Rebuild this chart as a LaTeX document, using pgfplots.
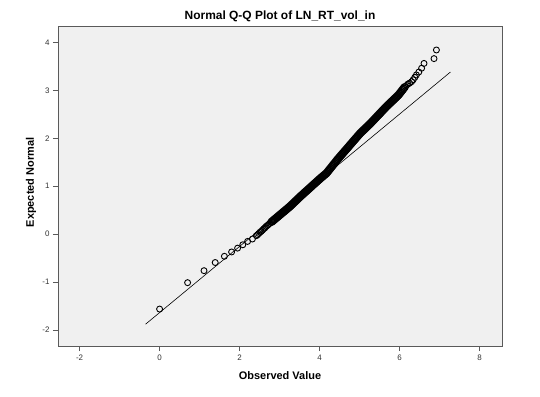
\documentclass[border=0pt]{standalone}
\usepackage{pgfplots}
\pgfplotsset{compat=1.18}
\usepackage{fontspec}
\setmainfont{Liberation Sans}
\definecolor{plotbg}{HTML}{F0F0F0}
\definecolor{framec}{HTML}{5A5A5A}
\begin{document}
\begin{tikzpicture}
\begin{axis}[
  at={(0,0)}, anchor=south west,
  scale only axis, width=444bp, height=320bp,
  xmin=-2.54, xmax=8.56, ymin=-2.33, ymax=4.34,
  axis background/.style={fill=plotbg},
  axis line style={draw=framec, line width=1bp},
  xtick={-2,0,2,4,6,8}, xticklabels={-2,0,2,4,6,8},
  ytick={-2,-1,0,1,2,3,4}, yticklabels={-2,-1,0,1,2,3,4},
  tick align=outside, tick pos=left,
  major tick length=5bp,
  tick style={draw=framec, line width=0.8bp},
  tick label style={font=\fontsize{8}{9}\selectfont, text=black!80},
]
\addplot[black, line width=0.6bp] coordinates {(-0.35,-1.875) (7.27,3.38)};
% sparse observations (tails)
\addplot[only marks, mark=o, mark size=3bp, mark options={line width=0.9bp, draw=black}] coordinates {
(0.00,-1.56) (0.70,-1.01) (1.11,-0.76) (1.39,-0.59) (1.62,-0.46) (1.80,-0.37)
(1.95,-0.29) (2.08,-0.22) (2.20,-0.15) (2.32,-0.10) (2.42,-0.03)
(2.45,-0.01) (2.48,0.015) (2.51,0.04) (2.54,0.06) (2.57,0.085) (2.60,0.11) (2.63,0.13)
(2.66,0.16) (2.69,0.18) (2.72,0.20) (2.75,0.225)
(6.17,3.10) (6.21,3.13) (6.25,3.15) (6.30,3.18) (6.34,3.22) (6.38,3.27) (6.42,3.32)
(6.48,3.38) (6.55,3.46) (6.61,3.56) (6.86,3.66) (6.92,3.84)
};
% dense central band of overlapping observations
\addplot[only marks, mark=o, mark size=3.5bp, mark options={line width=1.3bp, draw=black}] coordinates {
(2.80,0.258) (2.825,0.275) (2.85,0.293) (2.875,0.310) (2.90,0.328)
(2.925,0.345) (2.95,0.363) (2.975,0.380) (3.00,0.398) (3.025,0.415) (3.05,0.433)
(3.075,0.450) (3.10,0.468) (3.125,0.485) (3.15,0.503) (3.175,0.520) (3.20,0.538)
(3.225,0.555) (3.25,0.573)
(3.275,0.592) (3.30,0.612) (3.325,0.632) (3.35,0.652) (3.375,0.672) (3.40,0.692)
(3.425,0.712) (3.45,0.732) (3.475,0.752) (3.50,0.772)
(3.525,0.791) (3.55,0.810) (3.575,0.829) (3.60,0.848) (3.625,0.867) (3.65,0.886)
(3.675,0.905) (3.70,0.923) (3.725,0.942) (3.75,0.961) (3.775,0.980) (3.80,0.999)
(3.825,1.018) (3.85,1.037) (3.875,1.056) (3.90,1.074) (3.925,1.093) (3.95,1.112)
(3.975,1.131) (4.00,1.150)
(4.025,1.168) (4.05,1.185) (4.075,1.203) (4.10,1.221) (4.125,1.238) (4.15,1.256)
(4.175,1.275) (4.20,1.301) (4.225,1.327) (4.25,1.353) (4.275,1.378) (4.30,1.404)
(4.325,1.430) (4.35,1.456) (4.375,1.482) (4.40,1.508) (4.425,1.534) (4.45,1.560)
(4.475,1.585) (4.50,1.609) (4.525,1.633) (4.55,1.657) (4.575,1.681) (4.60,1.705)
(4.625,1.729) (4.65,1.753) (4.675,1.777) (4.70,1.801) (4.725,1.825) (4.75,1.850)
(4.775,1.874) (4.80,1.898) (4.825,1.922) (4.85,1.946) (4.875,1.970) (4.90,1.994)
(4.925,2.018) (4.95,2.042) (4.975,2.066) (5.00,2.090)
(5.025,2.112) (5.05,2.132) (5.075,2.152) (5.10,2.172) (5.125,2.192) (5.15,2.212)
(5.175,2.232) (5.20,2.252) (5.225,2.272) (5.25,2.292)
(5.275,2.313) (5.30,2.335) (5.325,2.357) (5.35,2.379) (5.375,2.401) (5.40,2.423)
(5.425,2.445) (5.45,2.467) (5.475,2.489) (5.50,2.511) (5.525,2.533) (5.55,2.555)
(5.575,2.577) (5.60,2.599) (5.625,2.620) (5.65,2.642)
(5.675,2.664) (5.70,2.684) (5.725,2.704) (5.75,2.724) (5.775,2.744) (5.80,2.764)
(5.825,2.784) (5.85,2.804) (5.875,2.824) (5.90,2.844) (5.925,2.864) (5.95,2.884)
(5.975,2.905) (6.00,2.932) (6.025,2.958) (6.05,2.985) (6.075,3.011) (6.10,3.038)
(6.125,3.064)
};
\end{axis}
\node[font=\bfseries\fontsize{12}{14}\selectfont] at (222bp,330bp) {Normal Q-Q Plot of LN\_RT\_vol\_in};
\node[font=\bfseries\fontsize{11}{13}\selectfont] at (222bp,-30bp) {Observed Value};
\node[font=\bfseries\fontsize{11}{13}\selectfont, rotate=90] at (-27bp,163.5bp) {Expected Normal};
\pgfresetboundingbox
\path[use as bounding box] (-58bp,-51bp) rectangle (482bp,346bp);
\end{tikzpicture}
\end{document}
